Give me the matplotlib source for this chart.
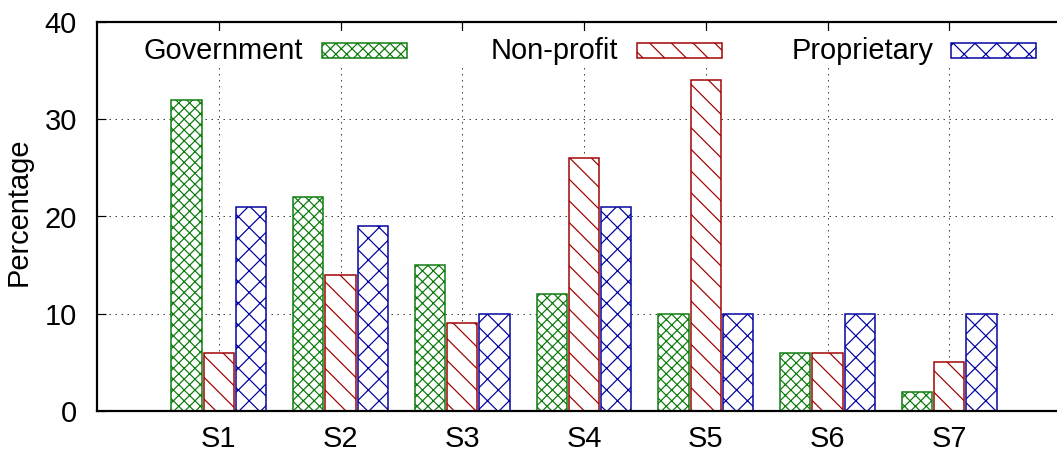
import numpy as np
import matplotlib
matplotlib.use("Agg")
import matplotlib.pyplot as plt
from matplotlib.patches import Rectangle

categories = ["S1", "S2", "S3", "S4", "S5", "S6", "S7"]
government = [32, 22, 15, 12, 10, 6, 2]
non_profit = [6, 14, 9, 26, 34, 6, 5]
proprietary = [21, 19, 10, 21, 10, 10, 10]
series_names = ["Government", "Non-profit", "Proprietary"]
y_ticks = [0, 10, 20, 30, 40]

DPI = 130
W, H = 1057, 454


def pt(px):
    # pixels -> points at this dpi
    return px * 72.0 / DPI


plt.rcParams['font.family'] = ['Liberation Sans', 'DejaVu Sans']
plt.rcParams['font.size'] = pt(29)
plt.rcParams['hatch.linewidth'] = pt(1.2)

fig = plt.figure(figsize=(W / DPI, H / DPI), dpi=DPI)
# axes box in pixels (right edge runs past the picture, as in the reference)
ax_l, ax_r, ax_t, ax_b = 97, 1071, 22, 411
ax = fig.add_axes([ax_l / W, 1 - ax_b / H, (ax_r - ax_l) / W, (ax_b - ax_t) / H])


def ax_xy(px, py):
    return (px - ax_l) / (ax_r - ax_l), (ax_b - py) / (ax_b - ax_t)


colors = ["#0a7a0a", "#a00000", "#0000a0"]
hatches = ["xxxx", "\\\\", "xx"]
values = [government, non_profit, proprietary]
offsets = [-0.265, 0.0, 0.265]
width = 0.25

x = np.arange(len(categories))
for vals, c, h, off in zip(values, colors, hatches, offsets):
    ax.bar(x + off, vals, width, facecolor="white", edgecolor=c, hatch=h,
           linewidth=pt(1.5), zorder=2)

ax.set_xlim(-1, 7)
ax.set_ylim(0, 40)
ax.set_xticks(x)
ax.set_xticklabels(categories)
ax.set_yticks(y_ticks)
ax.set_axisbelow(True)
ax.grid(True, color="0.25", linewidth=pt(1), linestyle=(0, (1.5, 4.5)))
ax.tick_params(axis="both", direction="in", length=pt(9), width=pt(1.2),
               top=True, right=True, bottom=True)
ax.tick_params(axis="y", pad=pt(20))
ax.tick_params(axis="x", pad=pt(14))
for s in ax.spines.values():
    s.set_linewidth(pt(2.2))

ax.set_ylabel("Percentage")
ax.yaxis.set_label_coords(-0.0657, 0.513)

# key area: white band hides the grid, then text + sample boxes
x0, y0 = ax_xy(ax_l, 64)
x1, y1 = ax_xy(ax_r, 31)
ax.add_patch(Rectangle((x0, y0), x1 - x0, y1 - y0, transform=ax.transAxes,
                       facecolor="white", edgecolor="none", zorder=1))
text_right = [303, 618, 933]
box_left = [322, 637, 951]
for name, c, h, tr, bl in zip(series_names, colors, hatches, text_right, box_left):
    tx, ty = ax_xy(tr, 51)
    ax.text(tx, ty, name, transform=ax.transAxes, ha="right", va="center", zorder=3)
    bx, by = ax_xy(bl, 57.5)
    bx2, by2 = ax_xy(bl + 85, 42.5)
    ax.add_patch(Rectangle((bx, by), bx2 - bx, by2 - by, transform=ax.transAxes,
                           facecolor="white", edgecolor=c, hatch=h,
                           linewidth=pt(1.5), zorder=3, clip_on=False))

fig.savefig("out.png", dpi=DPI)
